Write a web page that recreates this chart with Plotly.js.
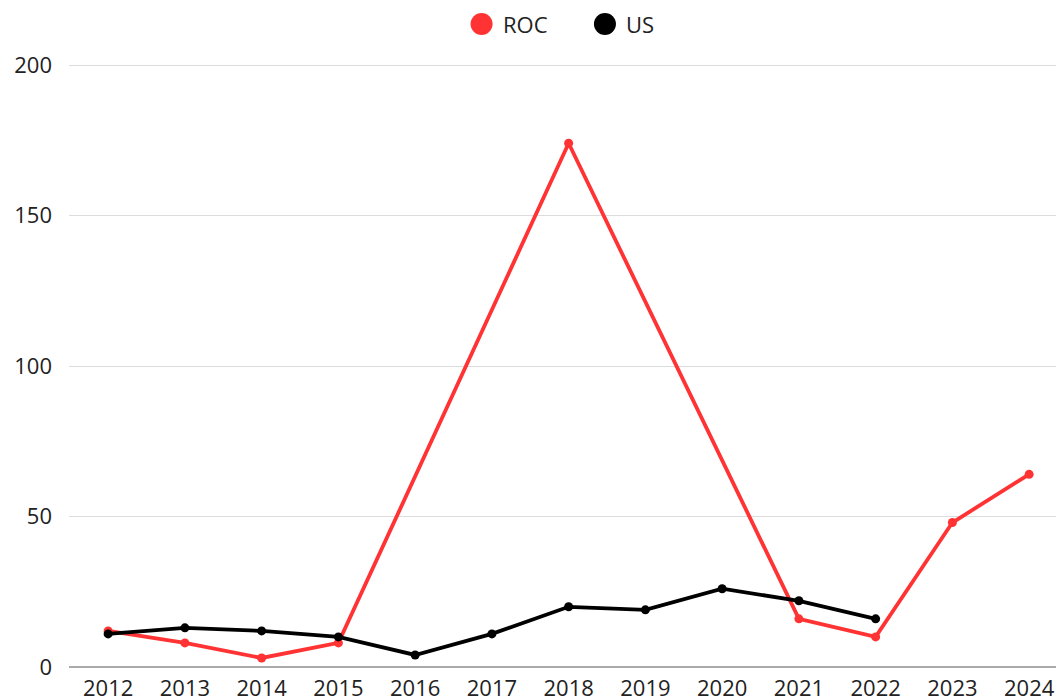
<!DOCTYPE html>
<html>
<head>
<meta charset="utf-8">
<script src="https://cdn.plot.ly/plotly-3.0.1.min.js"></script>
<style>
  html, body { margin: 0; padding: 0; background: #fff; }
  #chart { width: 1056px; height: 699px; }
</style>
</head>
<body>
<div id="chart"></div>
<script>
// Yearly counts for the two series
const years = [2012, 2013, 2014, 2015, 2016, 2017, 2018, 2019, 2020, 2021, 2022, 2023, 2024];
const rocValues = [12, 8, 3, 8, null, null, 174, null, null, 16, 10, 48, 64];
const usValues = [11, 13, 12, 10, 4, 11, 20, 19, 26, 22, 16, null, null];
const yTicks = [0, 50, 100, 150, 200];

const seriesNames = ['ROC', 'US'];
const seriesColors = ['#ff3333', '#000000'];
const FONT = '"Open Sans", sans-serif';
const TEXT_SIZE = 22;

const traces = [rocValues, usValues].map((vals, i) => ({
  x: years,
  y: vals,
  name: seriesNames[i],
  type: 'scatter',
  mode: 'lines+markers',
  connectgaps: true,
  line: { color: seriesColors[i], width: 3.8 },
  marker: { color: seriesColors[i], size: 9 },
  showlegend: false,
  hoverinfo: 'x+y+name'
}));

// Custom legend row across the top: large dots with labels
const legendX = [0.418, 0.543];
const legendTextX = [0.4375, 0.5625];
const legendY = 1.0628;
const shapes = seriesNames.map((n, i) => ({
  type: 'circle',
  xref: 'paper', yref: 'paper',
  xsizemode: 'pixel', ysizemode: 'pixel',
  xanchor: legendX[i], yanchor: legendY,
  x0: -11, x1: 11, y0: -11, y1: 11,
  fillcolor: seriesColors[i],
  line: { width: 0 }
}));
const annotations = seriesNames.map((n, i) => ({
  text: n,
  xref: 'paper', yref: 'paper',
  x: legendTextX[i], y: legendY,
  xanchor: 'left', yanchor: 'middle',
  showarrow: false,
  font: { family: FONT, size: TEXT_SIZE, color: '#222' }
}));

const layout = {
  width: 1056,
  height: 699,
  margin: { l: 69, r: 0, t: 62, b: 32, pad: 0 },
  paper_bgcolor: '#fff',
  plot_bgcolor: '#fff',
  font: { family: FONT, size: TEXT_SIZE, color: '#222' },
  showlegend: false,
  xaxis: {
    type: 'linear',
    range: [2011.49, 2024.35],
    tickvals: years,
    ticktext: years.map(String),
    showgrid: false,
    zeroline: false,
    showline: false,
    ticks: '',
    ticklabelstandoff: 6,
    tickfont: { family: FONT, size: TEXT_SIZE, color: '#222' },
    fixedrange: true
  },
  yaxis: {
    range: [0, 201],
    tickvals: yTicks,
    ticktext: yTicks.map(String),
    showgrid: true,
    gridcolor: '#dcdcdc',
    gridwidth: 1,
    zeroline: true,
    zerolinecolor: '#aaaaaa',
    zerolinewidth: 1.5,
    showline: false,
    ticks: '',
    ticklabelstandoff: 16,
    tickfont: { family: FONT, size: TEXT_SIZE, color: '#222' },
    fixedrange: true
  },
  shapes: shapes,
  annotations: annotations
};

Plotly.newPlot('chart', traces, layout, { displayModeBar: false });
</script>
</body>
</html>
